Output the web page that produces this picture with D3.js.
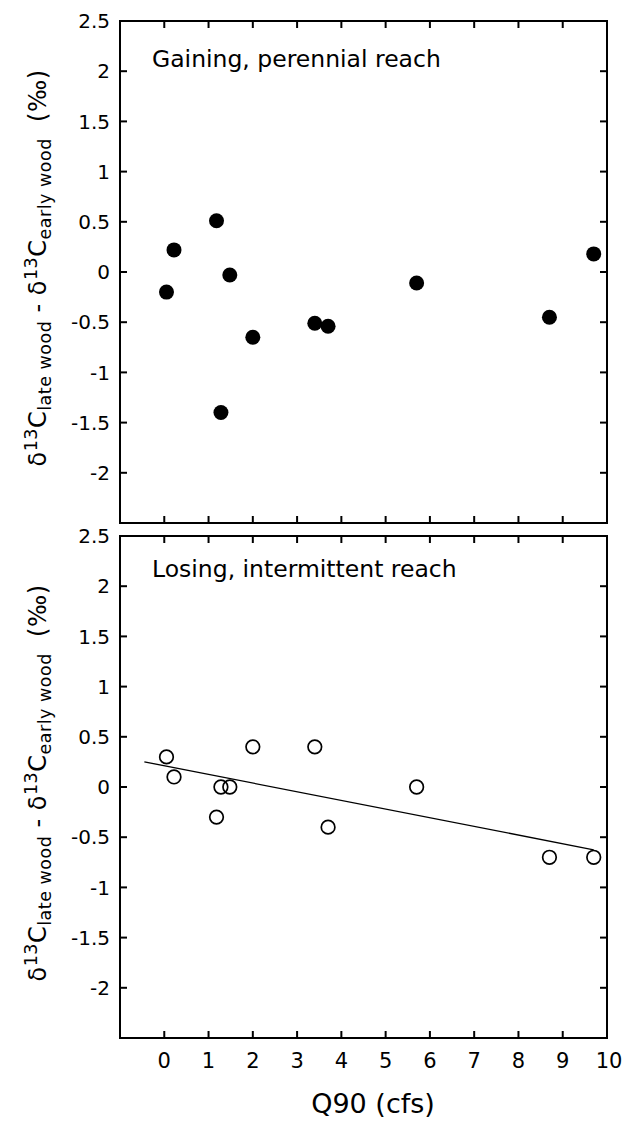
<!DOCTYPE html>
<html>
<head>
<meta charset="utf-8">
<script src="https://cdn.jsdelivr.net/npm/d3@7"></script>
<style>
  html, body { margin: 0; padding: 0; background: #fff; }
  svg { display: block; font-family: "DejaVu Sans", Verdana, sans-serif; }
</style>
</head>
<body>
<svg id="chart" width="637" height="1122"></svg>
<script>
// Q90 discharge (cfs) for each site, shared by both panels
const q90 = [0.05, 0.22, 1.18, 1.28, 1.48, 2.0, 3.4, 3.7, 5.7, 8.7, 9.7];

// late-wood minus early-wood δ13C (‰)
const gainingDiff = [-0.2, 0.22, 0.51, -1.4, -0.03, -0.65, -0.51, -0.54, -0.11, -0.45, 0.18];
const losingDiff  = [0.3, 0.1, -0.3, 0.0, 0.0, 0.4, 0.4, -0.4, 0.0, -0.7, -0.7];

const panelTitles = ["Gaining, perennial reach", "Losing, intermittent reach"];
const xTickValues = [0, 1, 2, 3, 4, 5, 6, 7, 8, 9, 10];
const yTickValues = [-2, -1.5, -1, -0.5, 0, 0.5, 1, 1.5, 2, 2.5];
const fitExtent = [-0.45, 9.7];

const svg = d3.select("#chart");
const left = 120, right = 607;
const x = d3.scaleLinear().domain([-1, 10]).range([left, right]);

const panels = [
  { top: 21, bottom: 523, values: gainingDiff, filled: true, title: panelTitles[0], titleY: 67, fit: false, xLabels: false },
  { top: 536, bottom: 1038, values: losingDiff, filled: false, title: panelTitles[1], titleY: 577, fit: true, xLabels: true }
];

const tickLen = 7;
const fmt = v => (v < 0 ? "-" : "") + String(Math.abs(v));

// least-squares line through the losing-reach points
function linearFit(xs, ys) {
  const mx = d3.mean(xs), my = d3.mean(ys);
  let sxy = 0, sxx = 0;
  xs.forEach((xv, i) => { sxy += (xv - mx) * (ys[i] - my); sxx += (xv - mx) ** 2; });
  const slope = sxy / sxx;
  return { slope, intercept: my - slope * mx };
}

panels.forEach(p => {
  const y = d3.scaleLinear().domain([-2.5, 2.5]).range([p.bottom, p.top]);
  const g = svg.append("g");

  // inward ticks on all four sides
  const innerX = xTickValues.filter(v => v < 10);
  const innerY = yTickValues.filter(v => v < 2.5);
  const tickStyle = sel => sel.attr("stroke", "#000").attr("stroke-width", 2);

  g.append("g").selectAll("line").data(innerX).join("line")
    .attr("x1", d => x(d)).attr("x2", d => x(d))
    .attr("y1", p.bottom).attr("y2", p.bottom - tickLen).call(tickStyle);
  g.append("g").selectAll("line").data(innerX).join("line")
    .attr("x1", d => x(d)).attr("x2", d => x(d))
    .attr("y1", p.top).attr("y2", p.top + tickLen).call(tickStyle);
  g.append("g").selectAll("line").data(innerY).join("line")
    .attr("x1", left).attr("x2", left + tickLen)
    .attr("y1", d => y(d)).attr("y2", d => y(d)).call(tickStyle);
  g.append("g").selectAll("line").data(innerY).join("line")
    .attr("x1", right).attr("x2", right - tickLen)
    .attr("y1", d => y(d)).attr("y2", d => y(d)).call(tickStyle);

  // frame
  g.append("rect")
    .attr("x", left).attr("y", p.top)
    .attr("width", right - left).attr("height", p.bottom - p.top)
    .attr("fill", "none").attr("stroke", "#000").attr("stroke-width", 2);

  // y tick labels
  g.append("g").selectAll("text").data(yTickValues).join("text")
    .attr("x", 110).attr("y", d => y(d))
    .attr("dy", "0.36em")
    .attr("text-anchor", "end")
    .attr("font-size", 20)
    .text(fmt);

  // panel title
  g.append("text")
    .attr("x", 152).attr("y", p.titleY)
    .attr("font-size", 23.5)
    .text(p.title);

  // y axis title
  const yt = g.append("text")
    .attr("transform", `translate(46,${(p.top + p.bottom) / 2 - 4}) rotate(-90)`)
    .attr("text-anchor", "middle")
    .attr("letter-spacing", 0.5)
    .attr("font-size", 24);
  yt.append("tspan").text("δ");
  yt.append("tspan").attr("font-size", 17.5).attr("dy", -9).text("13");
  yt.append("tspan").attr("dy", 9).text("C");
  yt.append("tspan").attr("font-size", 17.5).attr("dy", 5).text("late wood");
  yt.append("tspan").attr("dy", -5).text(" - δ");
  yt.append("tspan").attr("font-size", 17.5).attr("dy", -9).text("13");
  yt.append("tspan").attr("dy", 9).text("C");
  yt.append("tspan").attr("font-size", 17.5).attr("dy", 5).text("early wood");
  yt.append("tspan").attr("dy", -5).text("\u00a0\u00a0(‰)");

  // regression line
  if (p.fit) {
    const f = linearFit(q90, p.values);
    g.append("line")
      .attr("x1", x(fitExtent[0])).attr("y1", y(f.intercept + f.slope * fitExtent[0]))
      .attr("x2", x(fitExtent[1])).attr("y2", y(f.intercept + f.slope * fitExtent[1]))
      .attr("stroke", "#000").attr("stroke-width", 1.3);
  }

  // points
  const pts = q90.map((xv, i) => ({ x: xv, y: p.values[i] }));
  g.append("g").selectAll("circle").data(pts).join("circle")
    .attr("cx", d => x(d.x)).attr("cy", d => y(d.y))
    .attr("r", p.filled ? 7.5 : 6.8)
    .attr("fill", p.filled ? "#000" : "none")
    .attr("stroke", "#000")
    .attr("stroke-width", p.filled ? 0 : 1.7);

  // x tick labels
  if (p.xLabels) {
    g.append("g").selectAll("text").data(xTickValues).join("text")
      .attr("x", d => x(d) + (d === 10 ? 2 : 0)).attr("y", p.bottom + 30)
      .attr("text-anchor", "middle")
      .attr("font-size", 21)
      .text(d => String(d));
  }
});

// x axis title
svg.append("text")
  .attr("x", 373).attr("y", 1113)
  .attr("text-anchor", "middle")
  .attr("font-size", 27)
  .text("Q90 (cfs)");
</script>
</body>
</html>
